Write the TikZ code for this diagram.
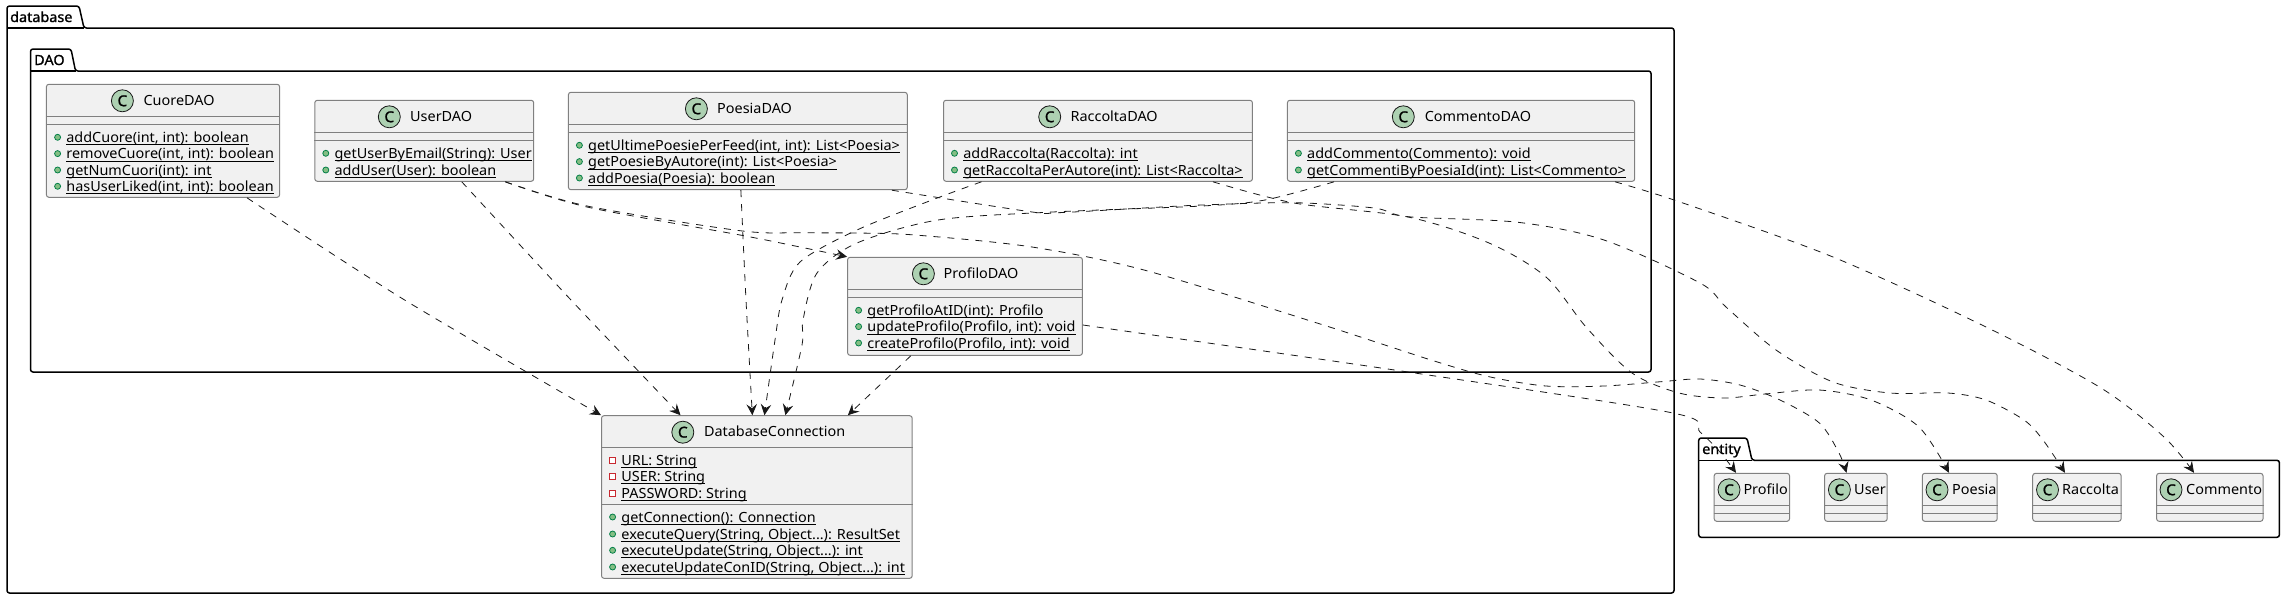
\documentclass[tikz,border=0pt]{standalone}
\usepackage{fontspec}
\usepackage{tikz}
\usetikzlibrary{arrows.meta}
\setmainfont[FakeStretch=1.03]{Noto Sans}
\newfontfamily\pkgfont[FakeStretch=1.03,FakeBold=1.2]{Noto Sans}
\definecolor{classfill}{HTML}{F1F1F1}
\definecolor{classline}{HTML}{808080}
\definecolor{iconfill}{HTML}{ADD1B2}
\definecolor{dotfill}{HTML}{84BE84}
\definecolor{dotline}{HTML}{038048}
\definecolor{fieldline}{HTML}{C82930}
\definecolor{ink}{HTML}{181818}

% underlined text with the rule at a fixed depth
\newcommand{\staticname}[1]{\setbox0\hbox{#1}\rlap{\rule[-3pt]{\wd0}{1pt}}\box0}
% id, left, top, right, bottom, first rule, second rule
\newcommand{\umlbox}[7]{
  \node[classbox, minimum width={(#4-#2)*1pt}, minimum height={(#5-#3)*1pt}] (#1) at ({(#2+#4)/2},{(#3+#5)/2}) {};
  \draw[sepline] (#1.west |- 0,#6) -- (#1.east |- 0,#6);
  \draw[sepline] (#1.west |- 0,#7) -- (#1.east |- 0,#7);
}
% id, icon x, name x, top, name
\newcommand{\umlhead}[5]{
  \node[classicon] (#1icon) at ({#2},{#4+16.5}) {C};
  \node[classname] (#1name) at ({#3},{#4+21}) {#5};
}
\newcommand{\member}[4]{
  \node[memberdot] (#1dot) at (#2,#3-5) {};
  \node[membertext] (#1) at ({#2+8.6},#3) {\staticname{#4}};
}
\newcommand{\privfield}[4]{
  \node[fielddot] (#1dot) at (#2,#3-5) {};
  \node[membertext] (#1) at ({#2+8.6},#3) {\staticname{#4}};
}

\begin{document}
\begin{tikzpicture}[x=1pt, y=-1pt,
  classbox/.style={rectangle, draw=classline, fill=classfill, line width=1pt, rounded corners=2.5pt, inner sep=0pt},
  sepline/.style={draw=classline, line width=1pt},
  classicon/.style={circle, draw=ink, fill=iconfill, line width=.8pt, minimum size=22pt, inner sep=0pt, font=\fontsize{15}{15}\pkgfont},
  classname/.style={anchor=base west, inner sep=0pt, text=black, font=\fontsize{14}{16}\selectfont},
  memberdot/.style={circle, draw=dotline, fill=dotfill, line width=.8pt, minimum size=6pt, inner sep=0pt},
  fielddot/.style={rectangle, draw=fieldline, fill=white, line width=.8pt, minimum size=6pt, inner sep=0pt},
  membertext/.style={anchor=base west, inner sep=0pt, text=black, font=\fontsize{14}{16}\selectfont},
  pkgline/.style={draw=black, fill=white, line width=1.5pt, rounded corners=2.5pt},
  pkgname/.style={anchor=base west, inner sep=0pt, text=black, font=\fontsize{14}{16}\pkgfont},
  depline/.style={draw=ink, line width=.8pt, dash pattern=on 7pt off 7pt, -{Stealth[length=11pt,width=10.5pt,inset=4pt]}}
]
  \useasboundingbox (0,0) rectangle (2285,600);

  % packages
  \draw[pkgline] (7,28) -- (7,6) -- (79,6) -- (84,28) -- (1674,28) -- (1674,593) -- (7,593) -- cycle;
  \draw[pkgline] (7,28) -- (84,28);
  \node[pkgname] (databasename) at (10,22) {database};
  \draw[pkgline] (30.5,71) -- (30.5,49) -- (71,49) -- (75.5,71) -- (1651,71) -- (1651,372) -- (30.5,372) -- cycle;
  \draw[pkgline] (30.5,71) -- (75.5,71);
  \node[pkgname] (daoname) at (34,65) {DAO};
  \draw[pkgline] (1698.7,460.3) -- (1698.7,438) -- (1747,438) -- (1752,460.3) -- (2279.4,460.3) -- (2279.4,537.3) -- (1698.7,537.3) -- cycle;
  \draw[pkgline] (1698.7,460.3) -- (1752,460.3);
  \node[pkgname] (entityname) at (1702,454) {entity};

  % DAO classes
  \umlbox{cuore}{46.4}{84.3}{279.6}{197.3}{116}{124.3}
  \umlhead{cuore}{122.4}{143.4}{84.3}{CuoreDAO}
  \member{cuorea}{57.6}{142.3}{addCuore(int, int): boolean}
  \member{cuoreb}{57.6}{158.6}{removeCuore(int, int): boolean}
  \member{cuorec}{57.6}{175}{getNumCuori(int): int}
  \member{cuored}{57.6}{191.3}{hasUserLiked(int, int): boolean}

  \umlbox{user}{314.8}{100.3}{533.7}{181.3}{132.3}{140.3}
  \umlhead{user}{389.3}{410}{100.3}{UserDAO}
  \member{usera}{325.8}{158.3}{getUserByEmail(String): User}
  \member{userb}{325.8}{175}{addUser(User): boolean}

  \umlbox{poesia}{568.4}{92.3}{907.3}{189.7}{124.3}{132.3}
  \umlhead{poesia}{696.4}{717}{92.3}{PoesiaDAO}
  \member{poesiaa}{579.4}{150.3}{getUltimePoesiePerFeed(int, int): List<Poesia>}
  \member{poesiab}{579.4}{166.6}{getPoesieByAutore(int): List<Poesia>}
  \member{poesiac}{579.4}{183}{addPoesia(Poesia): boolean}

  \umlbox{raccolta}{943.5}{100.3}{1252.4}{181.3}{132.3}{140.3}
  \umlhead{raccolta}{1049.7}{1070.4}{100.3}{RaccoltaDAO}
  \member{raccoltaa}{954.5}{158.3}{addRaccolta(Raccolta): int}
  \member{raccoltab}{954.5}{175}{getRaccoltaPerAutore(int): List<Raccolta>}

  \umlbox{commento}{1287.4}{100.3}{1634.7}{181.3}{132.3}{140.3}
  \umlhead{commento}{1403.3}{1424.6}{100.3}{CommentoDAO}
  \member{commentoa}{1298.4}{158.3}{addCommento(Commento): void}
  \member{commentob}{1298.4}{175}{getCommentiByPoesiaId(int): List<Commento>}

  \umlbox{profilo}{847.6}{257.3}{1082.4}{355.3}{289.3}{297.3}
  \umlhead{profilo}{923.4}{943.5}{257.3}{ProfiloDAO}
  \member{profiloa}{858.6}{315.3}{getProfiloAtID(int): Profilo}
  \member{profilob}{858.6}{331.6}{updateProfilo(Profilo, int): void}
  \member{profiloc}{858.6}{348}{createProfilo(Profilo, int): void}

  % connection class
  \umlbox{db}{601.5}{415.7}{912.2}{578.3}{447.3}{504.3}
  \umlhead{db}{682.8}{703.8}{415.7}{DatabaseConnection}
  \privfield{dbf}{612.6}{465}{URL: String}
  \privfield{dbg}{612.6}{481.3}{USER: String}
  \privfield{dbh}{612.6}{498}{PASSWORD: String}
  \member{dba}{612.6}{522}{getConnection(): Connection}
  \member{dbb}{612.6}{539}{executeQuery(String, Object...): ResultSet}
  \member{dbc}{612.6}{555.3}{executeUpdate(String, Object...): int}
  \member{dbd}{612.6}{572}{executeUpdateConID(String, Object...): int}

  % entity classes
  \umlbox{eprofilo}{1714.2}{473.3}{1789.5}{521.3}{505.3}{513.3}
  \umlhead{eprofilo}{1729}{1743.3}{473.3}{Profilo}
  \umlbox{euser}{1824.6}{473.3}{1887.2}{521.3}{505.3}{513.3}
  \umlhead{euser}{1839.4}{1854}{473.3}{User}
  \umlbox{epoesia}{1922.3}{473.3}{1997.2}{521.3}{505.3}{513.3}
  \umlhead{epoesia}{1937}{1952}{473.3}{Poesia}
  \umlbox{eraccolta}{2032.7}{473.3}{2121.1}{521.3}{505.3}{513.3}
  \umlhead{eraccolta}{2047.5}{2062}{473.3}{Raccolta}
  \umlbox{ecommento}{2156.6}{473.3}{2263}{521.3}{505.3}{513.3}
  \umlhead{ecommento}{2171}{2186}{473.3}{Commento}

  % dependencies
  \draw[depline] plot[smooth] coordinates {([xshift=84pt]cuore.south) (403,299) (db.north west)};
  \draw[depline] plot[smooth] coordinates {([xshift=37.5pt]user.south) (571,300) ([xshift=-76.35pt]db.north)};
  \draw[depline] plot[smooth] coordinates {([xshift=3pt]poesia.south) (746,300) ([xshift=-4.5pt]db.north)};
  \draw[depline] plot[smooth] coordinates {([xshift=-116.5pt]raccolta.south) (932,200) (857,230) (800,262) (782,300) (775,340) ([xshift=7.6pt]db.north)};
  \draw[depline] plot[smooth] coordinates {([xshift=-127pt]commento.south) (1265,200) (1202,206) (1052.6,212) (938,220) (857,243) (817,273) (803,320) (802,345) ([xshift=28.5pt]db.north)};
  \draw[depline] plot[smooth] coordinates {([xshift=-54.2pt]profilo.south) ([xshift=91pt]db.north)};
  \draw[depline] plot[smooth] coordinates {([xshift=81pt]user.south) (587,207) (740,235) (800,247) (profilo.north west)};
  \draw[depline] plot[smooth] coordinates {([xshift=81pt]user.south) (587,206) (740,230.7) (800,232.7) (857,233) (915,235) (1030,246.7) (1144,270) (1317,323) (1431,360) (1489,376.7) (1546,386) (1604,386) (1661,381.7) (1700,379) (1740,385) (1780,400) (1819.4,423) (1839,453) ([xshift=-9.4pt]euser.north)};
  \draw[depline] plot[smooth] coordinates {([xshift=154pt]poesia.south) (1030,211.7) (1058,212.7) (1144,208) (1202,205) (1294,202.7) (1374,208) (1408,216.7) (1518,222.3) (1604,240) (1700,283) (1726,307) (1776,350) (1833,382) (1890,393) (1948,393) (1986,400) (2024,420) (2043,440) ([xshift=-11.9pt]eraccolta.north)};
  \draw[depline] plot[smooth] coordinates {([xshift=115pt]raccolta.south) (1294,203) (1408,217) (1489,243) (1546,277) (1586,327) (1632,373) (1679,393) (1724,398) (1765,394) (1819,390) (1871,400) (1919,427) ([xshift=-10.75pt]epoesia.north)};
  \draw[depline] plot[smooth] coordinates {([xshift=154pt]commento.south) (1680,202) (1833,257) (1986,327) (2101,388) (2164,437) ([xshift=-15.8pt]ecommento.north)};
  \draw[depline] plot[smooth] coordinates {([yshift=-18.7pt]profilo.east) (1408,372) (1673,413) (1700,432) (1720,452) ([xshift=-15.85pt]eprofilo.north)};
\end{tikzpicture}
\end{document}
